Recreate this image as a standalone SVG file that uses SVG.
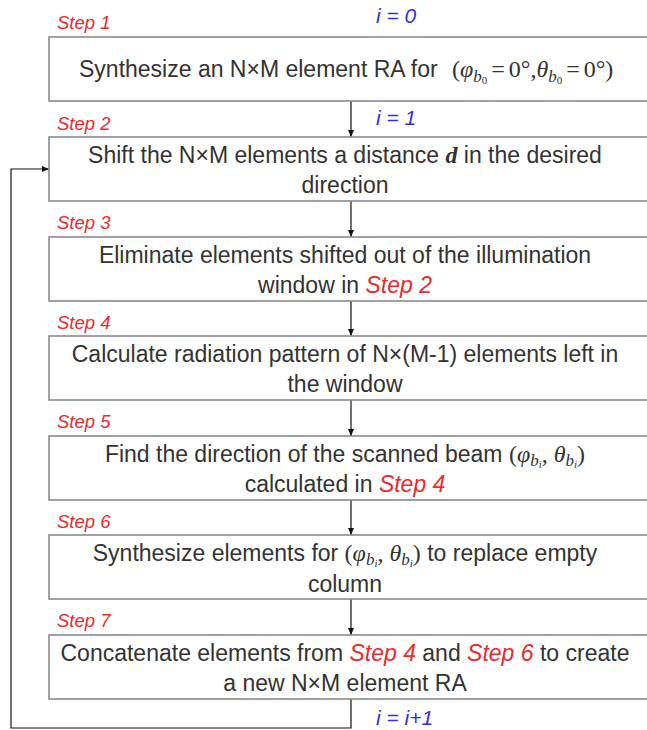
<svg xmlns="http://www.w3.org/2000/svg" width="647" height="730" viewBox="0 0 647 730">
<defs>
<marker id="ah" markerWidth="8" markerHeight="8" refX="7" refY="4" orient="auto" markerUnits="userSpaceOnUse">
<path d="M0,1 L7,4 L0,7 Z" fill="#111"/>
</marker>
<style>
.box{fill:#fff;stroke:#8a8a8a;stroke-width:1.6}
.t{font-family:"Liberation Sans","Arial",sans-serif;font-size:23px;fill:#333;text-anchor:middle}
.step{font-family:"Liberation Sans","Arial",sans-serif;font-size:18.5px;font-style:italic;fill:#f0282a}
.iv{font-family:"Liberation Sans","Arial",sans-serif;font-size:21px;font-style:italic;fill:#3030f0}
.red{fill:#f0282a;font-style:italic}
.m{font-family:"Liberation Serif","DejaVu Serif",serif;font-size:24px}
.mi{font-style:italic}
.sub{font-family:"Liberation Serif",serif;font-style:italic;font-size:17px}
.ssub{font-family:"Liberation Serif",serif;font-size:11px}
.conn{fill:none;stroke:#111;stroke-width:1.2}
</style>
</defs>

<g id="connectors">
<line class="conn" x1="351" y1="101" x2="351" y2="137" marker-end="url(#ah)"/>
<line class="conn" x1="351" y1="201" x2="351" y2="237" marker-end="url(#ah)"/>
<line class="conn" x1="351" y1="301" x2="351" y2="336" marker-end="url(#ah)"/>
<line class="conn" x1="351" y1="400" x2="351" y2="436" marker-end="url(#ah)"/>
<line class="conn" x1="351" y1="500" x2="351" y2="535" marker-end="url(#ah)"/>
<line class="conn" x1="351" y1="599" x2="351" y2="635" marker-end="url(#ah)"/>
<polyline class="conn" points="351,699 351,728 11,728 11,169 49,169" marker-end="url(#ah)"/>
</g>

<g id="step1">
<rect class="box" x="49" y="37" width="600" height="64"/>
<text class="step" x="57" y="29">Step 1</text>
<text class="iv" x="376" y="23">i = 0</text>
<text class="t" x="79" y="77" style="text-anchor:start">Synthesize an N×M element RA for <tspan class="m" dx="8">(<tspan class="mi">φ</tspan><tspan class="sub" dy="5">b</tspan><tspan class="ssub" dy="2">0</tspan><tspan dy="-7" dx="4">=</tspan><tspan dx="4">0°,</tspan><tspan class="mi">θ</tspan><tspan class="sub" dy="5">b</tspan><tspan class="ssub" dy="2">0</tspan><tspan dy="-7" dx="4">=</tspan><tspan dx="4">0°)</tspan></tspan></text>
</g>

<g id="step2">
<rect class="box" x="49" y="137" width="600" height="64"/>
<text class="step" x="57" y="130">Step 2</text>
<text class="iv" x="376" y="125">i = 1</text>
<text class="t" x="345" y="163">Shift the N×M elements a distance <tspan class="m mi" font-weight="bold">d</tspan> in the desired</text>
<text class="t" x="345" y="193">direction</text>
</g>

<g id="step3">
<rect class="box" x="49" y="237" width="600" height="64"/>
<text class="step" x="57" y="229">Step 3</text>
<text class="t" x="345" y="263">Eliminate elements shifted out of the illumination</text>
<text class="t" x="345" y="293">window in <tspan class="red">Step 2</tspan></text>
</g>

<g id="step4">
<rect class="box" x="49" y="336" width="600" height="64"/>
<text class="step" x="57" y="329">Step 4</text>
<text class="t" x="345" y="362">Calculate radiation pattern of N×(M-1) elements left in</text>
<text class="t" x="345" y="392">the window</text>
</g>

<g id="step5">
<rect class="box" x="49" y="436" width="600" height="64"/>
<text class="step" x="57" y="428">Step 5</text>
<text class="t" x="345" y="462">Find the direction of the scanned beam <tspan class="m">(<tspan class="mi">φ</tspan><tspan class="sub" dy="4">b</tspan><tspan class="ssub mi" dy="2">i</tspan><tspan dy="-6">, </tspan><tspan class="mi">θ</tspan><tspan class="sub" dy="4">b</tspan><tspan class="ssub mi" dy="2">i</tspan><tspan dy="-6">)</tspan></tspan></text>
<text class="t" x="345" y="492">calculated in <tspan class="red">Step 4</tspan></text>
</g>

<g id="step6">
<rect class="box" x="49" y="535" width="600" height="64"/>
<text class="step" x="57" y="528">Step 6</text>
<text class="t" x="345" y="561">Synthesize elements for <tspan class="m">(<tspan class="mi">φ</tspan><tspan class="sub" dy="4">b</tspan><tspan class="ssub mi" dy="2">i</tspan><tspan dy="-6">, </tspan><tspan class="mi">θ</tspan><tspan class="sub" dy="4">b</tspan><tspan class="ssub mi" dy="2">i</tspan><tspan dy="-6">)</tspan></tspan> to replace empty</text>
<text class="t" x="345" y="592">column</text>
</g>

<g id="step7">
<rect class="box" x="49" y="635" width="600" height="64"/>
<text class="step" x="57" y="627">Step 7</text>
<text class="iv" x="376" y="725">i = i+1</text>
<text class="t" x="345" y="661">Concatenate elements from <tspan class="red">Step 4</tspan> and <tspan class="red">Step 6</tspan> to create</text>
<text class="t" x="345" y="691">a new N×M element RA</text>
</g>
</svg>
